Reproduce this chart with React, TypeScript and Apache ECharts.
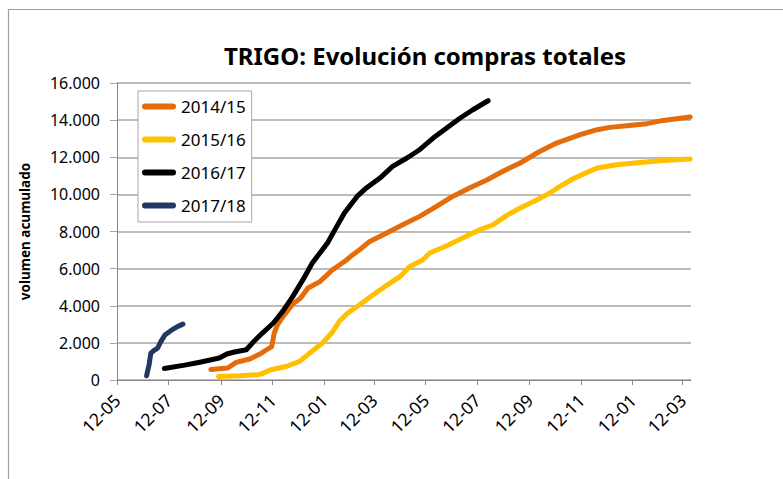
import React, { useEffect, useRef } from "react";
import * as echarts from "echarts";

// X axis: days counted from the first tick (12-05), ticks every two months
const xTickDays = [0, 61, 123, 184, 245, 304, 365, 426, 488, 549, 610, 669];
const xTickLabels = ["12-05", "12-07", "12-09", "12-11", "12-01", "12-03", "12-05", "12-07", "12-09", "12-11", "12-01", "12-03"];

const seriesNames = ["2014/15", "2015/16", "2016/17", "2017/18"];

const days1415 = [111, 131, 141, 157, 169, 177, 183, 186, 190, 197, 208, 217, 226, 240, 255, 272, 279, 287, 299, 319, 338, 358, 378, 397, 417, 438, 456, 477, 500, 520, 548, 568, 583, 603, 627, 646, 678];
const vals1415 = [560, 645, 950, 1130, 1400, 1630, 1800, 2530, 2980, 3450, 4100, 4400, 4955, 5300, 5940, 6480, 6750, 7020, 7465, 7920, 8365, 8815, 9350, 9890, 10345, 10790, 11235, 11690, 12315, 12765, 13215, 13485, 13610, 13700, 13810, 13985, 14165];

const days1516 = [120, 145, 166, 171, 181, 201, 216, 228, 243, 254, 263, 273, 287, 303, 319, 335, 346, 362, 370, 390, 409, 429, 445, 461, 477, 497, 512, 524, 539, 556, 568, 591, 619, 646, 678];
const vals1516 = [195, 230, 285, 330, 540, 740, 1000, 1450, 1990, 2530, 3160, 3610, 4055, 4595, 5100, 5580, 6100, 6480, 6840, 7235, 7650, 8095, 8365, 8870, 9265, 9715, 10075, 10430, 10830, 11185, 11420, 11600, 11720, 11830, 11905];

const days1617 = [56, 80, 98, 121, 130, 139, 153, 160, 172, 185, 196, 208, 220, 231, 249, 260, 269, 284, 295, 311, 326, 343, 358, 374, 390, 406, 421, 439];
const vals1617 = [620, 800, 960, 1185, 1400, 1510, 1630, 1990, 2530, 3070, 3695, 4505, 5405, 6300, 7380, 8275, 8995, 9890, 10345, 10880, 11505, 11960, 12405, 13035, 13575, 14115, 14560, 15045];

const days1718 = [35, 38, 40, 44, 48, 52, 57, 64, 72, 78];
const vals1718 = [230, 830, 1450, 1600, 1720, 2080, 2440, 2670, 2890, 3010];

const seriesColors = ["#E46C0A", "#FFC000", "#000000", "#1F3864"];

const FONT = "'Noto Sans', 'Open Sans', sans-serif";

function zip(xs: number[], ys: number[]) {
  return xs.map((x, i) => [x, ys[i]]);
}

function fmtThousands(v: number) {
  const s = String(Math.round(v));
  return s.replace(/\B(?=(\d{3})+(?!\d))/g, ".");
}

const legendIcon = "path://M3,0 L31,0 A3,3 0 0 1 31,6 L3,6 A3,3 0 0 1 3,0 Z";

export default function App() {
  const ref = useRef<HTMLDivElement>(null);

  useEffect(() => {
    document.body.style.margin = "0";
    if (!ref.current) return;
    const chart = echarts.init(ref.current, undefined, { renderer: "svg" });
    const allData = [
      zip(days1415, vals1415),
      zip(days1516, vals1516),
      zip(days1617, vals1617),
      zip(days1718, vals1718),
    ];
    chart.setOption({
      animation: false,
      backgroundColor: "#ffffff",
      title: {
        text: "TRIGO: Evolución compras totales",
        left: 420,
        top: 38,
        textAlign: "center",
        textStyle: { fontFamily: FONT, fontSize: 24, fontWeight: "bold", color: "#000" },
      },
      graphic: [
        {
          type: "rect",
          shape: { x: 8.5, y: 9.5, width: 820, height: 520 },
          style: { fill: "none", stroke: "#a0a0a0", lineWidth: 1.2 },
          silent: true,
        },
      ],
      legend: {
        orient: "vertical",
        left: 138,
        top: 91,
        padding: [7, 6, 8, 4],
        itemGap: 16,
        itemWidth: 34,
        itemHeight: 6,
        icon: legendIcon,
        backgroundColor: "#ffffff",
        borderColor: "#a6a6a6",
        borderWidth: 1,
        borderRadius: 0,
        textStyle: { fontFamily: FONT, fontSize: 17, color: "#000" },
        data: seriesNames,
      },
      grid: { left: 117, right: 92, top: 83, bottom: 99, containLabel: false },
      xAxis: {
        type: "value",
        min: 0,
        max: 679,
        axisLine: { show: true, lineStyle: { color: "#868686", width: 1 } },
        axisTick: { show: true, length: 5, customValues: xTickDays, lineStyle: { color: "#868686" } },
        splitLine: { show: false },
        axisLabel: {
          customValues: xTickDays,
          rotate: 45,
          margin: 17,
          fontFamily: FONT,
          fontSize: 17.5,
          color: "#000",
          formatter: (v: number) => {
            const i = xTickDays.indexOf(Math.round(v));
            return i >= 0 ? xTickLabels[i] : "";
          },
        },
      },
      yAxis: {
        type: "value",
        min: 0,
        max: 16000,
        interval: 2000,
        name: "volumen acumulado",
        nameLocation: "middle",
        nameGap: 85,
        nameTextStyle: { fontFamily: FONT, fontSize: 13.5, fontWeight: "bold", color: "#000" },
        axisLine: { show: true, lineStyle: { color: "#868686", width: 1 } },
        axisTick: { show: true, length: 7, lineStyle: { color: "#a6a6a6" } },
        splitLine: { show: true, lineStyle: { color: "#a6a6a6", width: 1.5 } },
        axisLabel: {
          margin: 17,
          fontFamily: FONT,
          fontSize: 16,
          color: "#000",
          formatter: (v: number) => fmtThousands(v),
        },
      },
      series: seriesNames.map((name, i) => ({
        name,
        type: "line",
        data: allData[i],
        color: seriesColors[i],
        showSymbol: false,
        symbol: "none",
        smooth: false,
        lineStyle: { width: 5, color: seriesColors[i], cap: "round", join: "round" },
        itemStyle: { color: seriesColors[i] },
        z: 2 + i,
      })),
    });
    return () => chart.dispose();
  }, []);

  return <div ref={ref} style={{ position: "fixed", left: 0, top: 0, width: 783, height: 479 }} />;
}
